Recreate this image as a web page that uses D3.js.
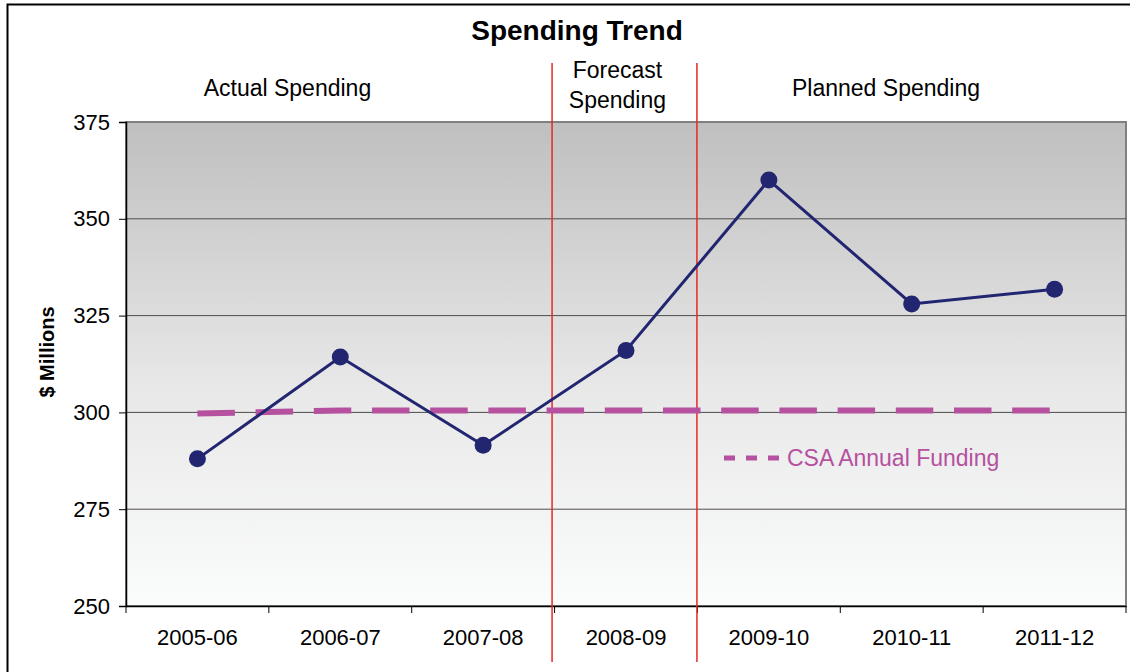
<!DOCTYPE html>
<meta charset="utf-8">
<script src="https://d3js.org/d3.v7.min.js"></script>
<body style="margin:0;background:#fff">
    <div id="viz"></div>
</body>
<style>
    text { font-family: "Liberation Sans", Arial, sans-serif; fill: #000; }
</style>
<script>
    // data
    let years = ["2005-06", "2006-07", "2007-08", "2008-09", "2009-10", "2010-11", "2011-12"];
    let spending = [288, 314.3, 291.5, 316, 360, 328, 331.8];
    let funding = [299.7, 300.5, 300.5, 300.5, 300.5, 300.5, 300.5];
    let yTicks = [250, 275, 300, 325, 350, 375];
    let periodLabels = [["Actual Spending"], ["Forecast", "Spending"], ["Planned Spending"]];
    let periodStarts = [3, 4]; // index of first category of forecast / planned

    let W = 1130, H = 672;
    let plot = {left: 126, right: 1126, top: 122, bottom: 606};
    let labelPos = [1.13, 3.44, 5.32]; // label centres, in band units

    let svg = d3.select("#viz").append("svg")
        .attr("width", W).attr("height", H);

    // outer frame
    svg.append("rect")
        .attr("x", 7.5).attr("y", 4.5)
        .attr("width", W).attr("height", H)
        .attr("fill", "none").attr("stroke", "#000").attr("stroke-width", 2);

    let x = d3.scaleBand().domain(years).range([plot.left, plot.right]);
    let y = d3.scaleLinear().domain([250, 375]).range([plot.bottom, plot.top]);
    let bw = x.bandwidth();

    // gradient background
    let grad = svg.append("defs").append("linearGradient")
        .attr("id", "bg").attr("x1", 0).attr("y1", 0).attr("x2", 0).attr("y2", 1);
    grad.append("stop").attr("offset", "0%").attr("stop-color", "#bfbfbf");
    grad.append("stop").attr("offset", "55%").attr("stop-color", "#e8e8e8");
    grad.append("stop").attr("offset", "100%").attr("stop-color", "#fbfcfc");

    svg.append("rect")
        .attr("x", plot.left).attr("y", plot.top)
        .attr("width", plot.right - plot.left).attr("height", plot.bottom - plot.top)
        .attr("fill", "url(#bg)")
        .attr("stroke", "#808080").attr("stroke-width", 2);

    // gridlines
    svg.append("g").selectAll("line")
        .data(yTicks.slice(1, -1))
        .enter().append("line")
        .attr("x1", plot.left).attr("x2", plot.right)
        .attr("y1", d => y(d)).attr("y2", d => y(d))
        .attr("stroke", "#4d4d4d").attr("stroke-width", 1);

    // y axis
    let yAxis = svg.append("g")
        .attr("transform", `translate(${plot.left},0)`)
        .call(d3.axisLeft(y).tickValues(yTicks).tickSize(7).tickPadding(9));
    yAxis.select(".domain").attr("stroke", "#000").attr("stroke-width", 1.5);
    yAxis.selectAll(".tick line").attr("stroke", "#000");
    yAxis.selectAll(".tick text").attr("font-size", 22).style("font-family", "Liberation Sans, Arial, sans-serif");

    // x axis, ticks at band edges
    let xAxis = svg.append("g")
        .attr("transform", `translate(0,${plot.bottom})`)
        .call(d3.axisBottom(x).tickSize(0).tickPadding(23));
    xAxis.select(".domain").attr("stroke", "#000").attr("stroke-width", 1.5);
    xAxis.selectAll(".tick text").attr("font-size", 22).style("font-family", "Liberation Sans, Arial, sans-serif");
    xAxis.append("g").selectAll("line")
        .data(d3.range(years.length + 1))
        .enter().append("line")
        .attr("x1", d => plot.left + d * bw)
        .attr("x2", d => plot.left + d * bw)
        .attr("y1", 0).attr("y2", 7)
        .attr("stroke", "#000");

    // y label
    svg.append("text")
        .attr("transform", `translate(54,352) rotate(-90)`)
        .attr("text-anchor", "middle")
        .attr("font-size", 20).attr("font-weight", "bold")
        .text("$ Millions");

    // title
    svg.append("text")
        .attr("x", 577).attr("y", 40)
        .attr("text-anchor", "middle")
        .attr("font-size", 28).attr("font-weight", "bold")
        .text("Spending Trend");

    // period separators
    svg.append("g").selectAll("line")
        .data(periodStarts)
        .enter().append("line")
        .attr("x1", (d, i) => plot.left + d * bw - (i === 0 ? 2.5 : 0.5))
        .attr("x2", (d, i) => plot.left + d * bw - (i === 0 ? 2.5 : 0.5))
        .attr("y1", 63).attr("y2", 662)
        .attr("stroke", "#e8262b").attr("stroke-width", 1.5);

    // period labels
    periodLabels.forEach(function(lines, k) {
        let cx = plot.left + labelPos[k] * bw;
        let t = svg.append("text")
            .attr("text-anchor", "middle")
            .attr("font-size", 23);
        let y0 = lines.length === 1 ? 96 : 78;
        lines.forEach(function(s, i) {
            t.append("tspan").attr("x", cx).attr("y", y0 + i * 30).text(s);
        });
    });

    // funding dashed line
    let line = d3.line()
        .x((d, i) => x(years[i]) + bw / 2)
        .y(d => y(d));
    svg.append("path")
        .datum(funding)
        .attr("d", line)
        .attr("fill", "none")
        .attr("stroke", "#b5519f").attr("stroke-width", 6)
        .attr("stroke-dasharray", "37.5,20.7");

    // spending line + points
    svg.append("path")
        .datum(spending)
        .attr("d", line)
        .attr("fill", "none")
        .attr("stroke", "#222570").attr("stroke-width", 3);
    svg.append("g").selectAll("circle")
        .data(spending)
        .enter().append("circle")
        .attr("cx", (d, i) => x(years[i]) + bw / 2)
        .attr("cy", d => y(d))
        .attr("r", 8.5)
        .attr("fill", "#222570");

    // legend
    let lg = svg.append("g").attr("transform", "translate(724,458)");
    lg.append("line")
        .attr("x1", 0).attr("x2", 57).attr("y1", 0).attr("y2", 0)
        .attr("stroke", "#b5519f").attr("stroke-width", 5)
        .attr("stroke-dasharray", "11,11");
    lg.append("text")
        .attr("x", 63).attr("y", 8)
        .attr("font-size", 23)
        .style("fill", "#b5519f")
        .text("CSA Annual Funding");
</script>
